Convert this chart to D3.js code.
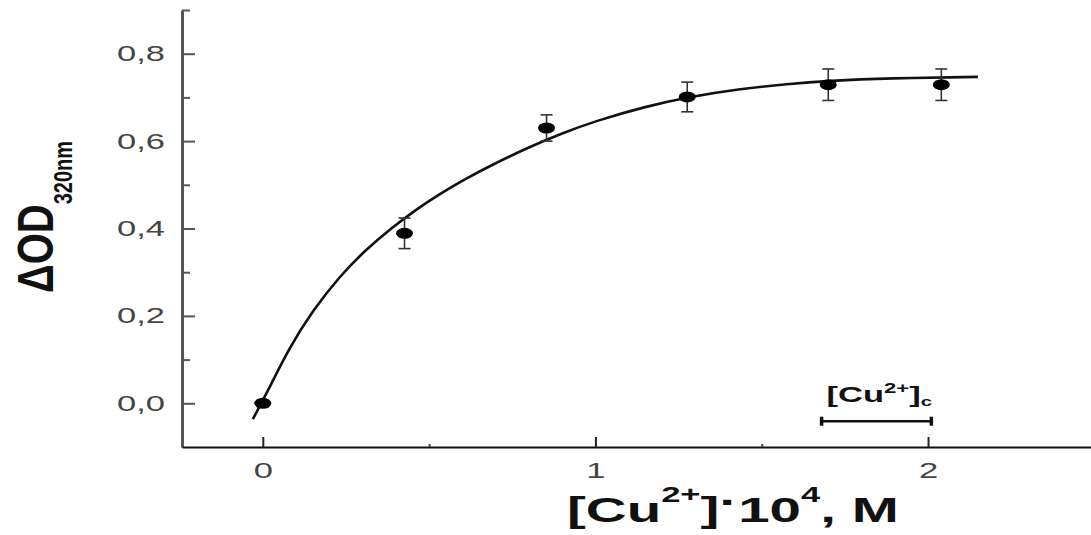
<!DOCTYPE html>
<html>
<head>
<meta charset="utf-8">
<script src="https://cdn.jsdelivr.net/npm/d3@7"></script>
<style>
    body { margin: 0; background: #fff; }
    svg { display: block; font-family: "Liberation Sans", Arial, sans-serif; }
</style>
</head>
<body>
<div id="chart"></div>
<script>
// Absorbance change at 320 nm vs. Cu2+ concentration

// Tick values
const xTicks = [0, 1, 2];
const xMinorTicks = [0.5, 1.5];
const yTicks = [0, 0.2, 0.4, 0.6, 0.8];
const yMinorTicks = [0.1, 0.3, 0.5, 0.7, 0.9];

// Measured points ([Cu2+]*10^4 M, dOD) and their error half-widths
const concentration = [0, 0.426, 0.853, 1.276, 1.70, 2.04];
const deltaOD = [0.0, 0.389, 0.630, 0.701, 0.729, 0.729];
const deltaErr = [0.008, 0.035, 0.03, 0.034, 0.036, 0.036];

// Fitted curve
const fitX = [-0.03, 0.011, 0.08, 0.15, 0.23, 0.31, 0.39, 0.46, 0.53, 0.60, 0.70, 0.80, 0.90, 1.00, 1.15, 1.28, 1.43, 1.58, 1.70, 1.88, 2.15];
const fitY = [-0.036, 0.022, 0.128, 0.212, 0.290, 0.352, 0.403, 0.443, 0.478, 0.510, 0.550, 0.586, 0.618, 0.646, 0.679, 0.701, 0.719, 0.731, 0.738, 0.744, 0.747];

// Critical concentration bar [Cu2+]c
const critRange = [1.68, 2.01];
const critLevel = -0.041;

const width = 1091, height = 535;
const stretch = 1.57;  // glyphs in the source are drawn wide

const svg = d3.select("#chart").append("svg")
              .attr("width", width)
              .attr("height", height);

const xScale = d3.scaleLinear()
                 .domain([-0.243, 2.49])
                 .range([182, 1091]);
const yScale = d3.scaleLinear()
                 .domain([-0.1, 0.9])
                 .range([447, 10]);

// Y axis: inner ticks, labels on the left
const yAxis = svg.append("g")
                 .attr("transform", "translate(182,0)")
                 .call(d3.axisLeft(yScale)
                         .tickValues(yTicks)
                         .tickSize(-13)
                         .tickSizeOuter(0)
                         .tickPadding(17)
                         .tickFormat(d => d3.format(".1f")(d).replace(".", ",")));
yAxis.select(".domain").attr("stroke", "#555").attr("stroke-width", 3);
yAxis.selectAll(".tick line").attr("stroke", "#555").attr("stroke-width", 2);
yAxis.selectAll(".tick text")
     .attr("x", 0)
     .attr("transform", "translate(-17,0) scale(" + stretch + ",1)")
     .attr("font-size", 22)
     .attr("font-family", null)
     .attr("fill", "#444");

svg.append("g")
   .attr("transform", "translate(182,0)")
   .call(d3.axisLeft(yScale).tickValues(yMinorTicks).tickSize(-8).tickFormat(""))
   .call(g => g.select(".domain").remove())
   .selectAll(".tick line").attr("stroke", "#555").attr("stroke-width", 2);

// X axis: inner ticks
const xAxis = svg.append("g")
                 .attr("transform", "translate(0,447)")
                 .call(d3.axisBottom(xScale)
                         .tickValues(xTicks)
                         .tickSize(-10)
                         .tickSizeOuter(0)
                         .tickPadding(15)
                         .tickFormat(d3.format("d")));
xAxis.select(".domain").attr("stroke", "#111").attr("stroke-width", 2.2);
xAxis.selectAll(".tick line").attr("stroke", "#222").attr("stroke-width", 2);
xAxis.selectAll(".tick text")
     .attr("transform", "scale(" + stretch + ",1)")
     .attr("font-size", 22)
     .attr("font-family", null)
     .attr("fill", "#444");

svg.append("g")
   .attr("transform", "translate(0,447)")
   .call(d3.axisBottom(xScale).tickValues(xMinorTicks).tickSize(-3).tickFormat(""))
   .call(g => g.select(".domain").remove())
   .selectAll(".tick line").attr("stroke", "#444").attr("stroke-width", 2);

// Fitted curve
const line = d3.line()
               .x(d => xScale(d[0]))
               .y(d => yScale(d[1]))
               .curve(d3.curveBasis);
svg.append("path")
   .datum(fitX.map((x, i) => [x, fitY[i]]))
   .attr("d", line)
   .attr("fill", "none")
   .attr("stroke", "#111")
   .attr("stroke-width", 2.6);

// Error bars then markers
const points = concentration.map((c, i) => ({x: c, y: deltaOD[i], e: deltaErr[i]}));
const bars = svg.append("g")
                .attr("stroke", "#333")
                .attr("stroke-width", 1.6)
                .selectAll("g")
                .data(points)
                .enter()
                .append("g");
bars.append("line")
    .attr("x1", d => xScale(d.x)).attr("x2", d => xScale(d.x))
    .attr("y1", d => yScale(d.y - d.e)).attr("y2", d => yScale(d.y + d.e));
bars.append("line")
    .attr("x1", d => xScale(d.x) - 6).attr("x2", d => xScale(d.x) + 6)
    .attr("y1", d => yScale(d.y - d.e)).attr("y2", d => yScale(d.y - d.e));
bars.append("line")
    .attr("x1", d => xScale(d.x) - 6).attr("x2", d => xScale(d.x) + 6)
    .attr("y1", d => yScale(d.y + d.e)).attr("y2", d => yScale(d.y + d.e));

svg.append("g")
   .selectAll("ellipse")
   .data(points)
   .enter()
   .append("ellipse")
   .attr("cx", d => xScale(d.x))
   .attr("cy", d => yScale(d.y))
   .attr("rx", 8.5)
   .attr("ry", 5.5)
   .attr("fill", "#000");

// [Cu2+]c bar and label
const critG = svg.append("g").attr("stroke", "#111");
critG.append("line")
     .attr("x1", xScale(critRange[0])).attr("x2", xScale(critRange[1]))
     .attr("y1", yScale(critLevel)).attr("y2", yScale(critLevel))
     .attr("stroke-width", 2.6);
critRange.forEach(function (c) {
    critG.append("line")
         .attr("x1", xScale(c)).attr("x2", xScale(c))
         .attr("y1", yScale(critLevel) - 4.5).attr("y2", yScale(critLevel) + 4.5)
         .attr("stroke-width", 3.5);
});

const critLabel = svg.append("text")
                     .attr("transform", "translate(" + (xScale(critRange[0]) + 5) + "," + (yScale(critLevel) - 19) + ") scale(" + stretch + ",1)")
                     .attr("font-size", 22)
                     .attr("font-weight", "bold")
                     .attr("fill", "#111");
critLabel.append("tspan").text("[Cu");
critLabel.append("tspan").attr("font-size", 14).attr("dy", -9).text("2+");
critLabel.append("tspan").attr("dy", 9).text("]");
critLabel.append("tspan").attr("font-size", 13).attr("dy", 4).text("c");

// X axis title
const xTitle = svg.append("text")
                  .attr("transform", "translate(567,522) scale(" + stretch + ",1)")
                  .attr("font-size", 36)
                  .attr("font-weight", "bold")
                  .attr("fill", "#111");
xTitle.append("tspan").text("[Cu");
xTitle.append("tspan").attr("font-size", 22).attr("dy", -20).text("2+");
xTitle.append("tspan").attr("dy", 20).text("]");
xTitle.append("tspan").attr("dy", -8).text("·");
xTitle.append("tspan").attr("dy", 8).text("10");
xTitle.append("tspan").attr("font-size", 22).attr("dy", -20).text("4");
xTitle.append("tspan").attr("dy", 20).text(", M");

// Y axis title
const yTitle = svg.append("text")
                  .attr("transform", "translate(53,293) scale(1.26,1) rotate(-90)")
                  .attr("font-size", 40)
                  .attr("font-weight", "bold")
                  .attr("fill", "#111");
yTitle.append("tspan").text("ΔOD");
yTitle.append("tspan").attr("font-size", 20).attr("dy", 15).text("320nm");
</script>
</body>
</html>
